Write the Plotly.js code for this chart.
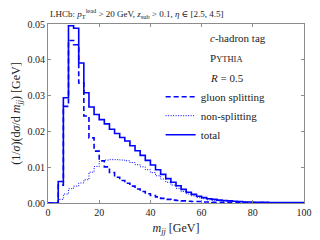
<!DOCTYPE html>
<html>
<head>
<meta charset="utf-8">
<script src="https://cdn.plot.ly/plotly-3.0.1.min.js"></script>
<style>html,body{margin:0;padding:0;background:#fff;}#chart{width:320px;height:240px;}</style>
</head>
<body>
<div id="chart"></div>
<script>
// m_jj bins: 2 GeV wide, from 0 to 100 GeV
const binWidth = 2;
const massMin = 0;
// (1/sigma) dsigma/dm_jj per bin
const totalVals = [0, 0, 0.0060, 0.0294, 0.0495, 0.0488, 0.0391, 0.0308, 0.0268, 0.0247,
  0.0233, 0.0221, 0.0206, 0.0194, 0.0183, 0.0173, 0.0160, 0.0146, 0.0133, 0.0119,
  0.0106, 0.0093, 0.0080, 0.0068, 0.0058, 0.0048, 0.0038, 0.0030, 0.0024, 0.0019,
  0.0015, 0.0012, 0.0010, 0.0008, 0.0007, 0.0006, 0.0005, 0.0004, 0.0003, 0.0003,
  0.0002, 0.0002, 0.0002, 0.0001, 0.0001, 0.0001, 0.0001, 0.0001, 0.0001, 0.0001];
const gluonVals = [0, 0, 0.0050, 0.0270, 0.0454, 0.0442, 0.0335, 0.0243, 0.0182, 0.0145,
  0.0118, 0.0101, 0.0085, 0.0072, 0.0063, 0.0055, 0.0047, 0.0039, 0.0032, 0.0026,
  0.0021, 0.0017, 0.0013, 0.0010, 0.0008, 0.0007, 0.0006, 0.0005, 0.0004, 0.0004,
  0.0003, 0.0003, 0.0002, 0.0002, 0.0002, 0.0001, 0.0001, 0.0001, 0.0001, 0.0001,
  0.0001, 0.0001, 0.0001, 0.0000, 0.0000, 0.0000, 0.0000, 0.0000, 0.0000, 0.0000];
const nonSplitVals = [0, 0, 0.0010, 0.0025, 0.0040, 0.0047, 0.0056, 0.0065, 0.0086, 0.0102,
  0.0116, 0.0120, 0.0121, 0.0121, 0.0120, 0.0118, 0.0113, 0.0107, 0.0101, 0.0093,
  0.0085, 0.0076, 0.0067, 0.0058, 0.0050, 0.0041, 0.0032, 0.0025, 0.0020, 0.0015,
  0.0012, 0.0009, 0.0008, 0.0006, 0.0005, 0.0005, 0.0004, 0.0003, 0.0002, 0.0002,
  0.0001, 0.0001, 0.0001, 0.0001, 0.0001, 0.0001, 0.0001, 0.0001, 0.0001, 0.0001];
const seriesNames = ['gluon splitting', 'non-splitting', 'total'];
const xTicks = [0, 20, 40, 60, 80, 100];
const yTicks = [0.00, 0.01, 0.02, 0.03, 0.04, 0.05];

function stepXY(vals) {
  const x = [], y = [];
  vals.forEach((v, i) => { x.push(massMin + i * binWidth); y.push(v); });
  x.push(massMin + vals.length * binWidth); y.push(vals[vals.length - 1]);
  return {x, y};
}
const serif = 'Liberation Serif, DejaVu Serif, serif';
const blue = '#0000ff';
const g = stepXY(gluonVals), n = stepXY(nonSplitVals), t = stepXY(totalVals);
const traces = [
  {x: g.x, y: g.y, name: seriesNames[0], mode: 'lines', line: {shape: 'hv', color: blue, width: 1.6, dash: '5px,3px'}},
  {x: n.x, y: n.y, name: seriesNames[1], mode: 'lines', line: {shape: 'hv', color: blue, width: 1, dash: '1px,1.5px'}},
  {x: t.x, y: t.y, name: seriesNames[2], mode: 'lines', line: {shape: 'hv', color: blue, width: 1.6}}
];
const axCommon = {
  showline: true, linecolor: '#8c8c8c', linewidth: 1, mirror: 'allticks',
  ticks: 'inside', ticklen: 3, tickcolor: '#8c8c8c', showgrid: false, zeroline: false,
  tickfont: {family: serif, size: 10, color: '#222'}
};
const layout = {
  width: 320, height: 240,
  margin: {l: 48, r: 16, t: 24, b: 37},
  paper_bgcolor: '#fff', plot_bgcolor: '#fff',
  font: {family: serif, color: '#222'},
  showlegend: true,
  legend: {x: 0.44, y: 0.675, xanchor: 'left', yanchor: 'top', bgcolor: 'rgba(0,0,0,0)',
    font: {family: serif, size: 11, color: '#222'}, tracegroupgap: 0},
  xaxis: Object.assign({}, axCommon, {range: [0, 100], tickvals: xTicks, ticktext: xTicks.map(String),
    title: {text: '<i>m</i><sub><i>jj</i></sub> [GeV]', font: {family: serif, size: 12, color: '#222'}, standoff: 6}}),
  yaxis: Object.assign({}, axCommon, {range: [0, 0.05], tickvals: yTicks, ticktext: yTicks.map(v => v.toFixed(2)),
    title: {text: '(1/<i>σ</i>)(d<i>σ</i>/d <i>m</i><sub><i>jj</i></sub>) [GeV]', font: {family: serif, size: 12, color: '#222'}, standoff: 4}}),
  annotations: [
    {xref: 'paper', yref: 'paper', x: 0, y: 1, xanchor: 'left', yanchor: 'bottom', yshift: 2, showarrow: false,
     text: 'LHCb: <i>p</i><sub>T</sub><sup>lead</sup> > 20 GeV, <i>z</i><sub>sub</sub> > 0.1, <i>η</i> ∈ [2.5, 4.5]',
     font: {family: serif, size: 9, color: '#222'}},
    {xref: 'paper', yref: 'paper', x: 0.625, y: 0.92, xanchor: 'left', yanchor: 'middle', showarrow: false,
     text: '<i>c</i>-hadron tag', font: {family: serif, size: 11, color: '#222'}},
    {xref: 'paper', yref: 'paper', x: 0.625, y: 0.81, xanchor: 'left', yanchor: 'middle', showarrow: false,
     text: 'P<span style="font-size:8.5px">YTHIA</span>', font: {family: serif, size: 11, color: '#222'}},
    {xref: 'paper', yref: 'paper', x: 0.625, y: 0.70, xanchor: 'left', yanchor: 'middle', showarrow: false,
     text: '<i>R</i> = 0.5', font: {family: serif, size: 11, color: '#222'}}
  ]
};
Plotly.newPlot('chart', traces, layout, {staticPlot: true, displayModeBar: false});
</script>
</body>
</html>
